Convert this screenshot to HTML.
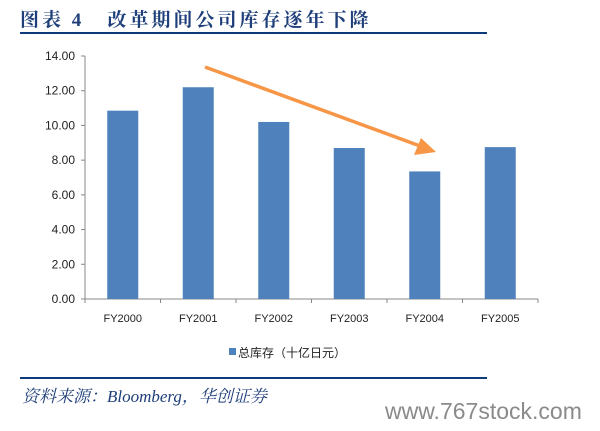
<!DOCTYPE html>
<html><head><meta charset="utf-8"><style>
body{margin:0;width:600px;height:431px;background:#fff;overflow:hidden;position:relative;font-family:"Liberation Sans","Noto Sans CJK SC",sans-serif}
.title{position:absolute;left:20px;top:5px;font-size:19px;font-weight:bold;color:#1f3f7a;font-family:"Liberation Serif","Noto Serif CJK SC",serif;letter-spacing:3px;white-space:nowrap}
.line{position:absolute;left:20px;width:467px;height:2px;background:#0e3a7a}
.src{position:absolute;left:22px;top:382px;font-size:17px;font-style:italic;color:#1f3f7a;font-family:"Liberation Serif","Noto Serif CJK SC",serif;white-space:nowrap}
.wm{position:absolute;left:385px;top:398px;font-size:23px;color:#8a8a8a;font-family:"Liberation Sans",sans-serif;white-space:nowrap}
</style></head><body>
<div class="title">图表 4&nbsp;&nbsp;&nbsp;改革期间公司库存逐年下降</div>
<div class="line" style="top:32px"></div>
<svg id="chart" width="600" height="431" style="position:absolute;left:0;top:0"></svg>
<div class="line" style="top:377px"></div>
<div class="src">资料来源：Bloomberg，华创证券</div>
<div class="wm">www.767stock.com</div>
<script>
const categories=["FY2000","FY2001","FY2002","FY2003","FY2004","FY2005"];
const values=[10.85,12.2,10.2,8.7,7.35,8.75];
const ticks=[0,2,4,6,8,10,12,14];
const tickLabels=["0.00","2.00","4.00","6.00","8.00","10.00","12.00","14.00"];
const svg=document.getElementById('chart');const NS="http://www.w3.org/2000/svg";
const x0=85,x1=538,y0=299,y1=56,ymax=14;
const y=v=>y0-(v/ymax)*(y0-y1);
const bw=(x1-x0)/categories.length;
function mk(t,a,p){const e=document.createElementNS(NS,t);for(const k in a)e.setAttribute(k,a[k]);(p||svg).appendChild(e);return e;}
let ax=mk('line',{x1:x0,y1:y1,x2:x0,y2:y0,stroke:'#888'});

let bx=mk('line',{x1:x0,y1:y0,x2:x1,y2:y0,stroke:'#888'});

ticks.forEach((t,i)=>{mk('line',{x1:x0-4,y1:y(t),x2:x0,y2:y(t),stroke:'#888'});
 const tx=mk('text',{x:x0-10,y:y(t)+4,'text-anchor':'end','font-size':12,fill:'#222'});tx.textContent=tickLabels[i];
 });
for(let i=0;i<=categories.length;i++)mk('line',{x1:x0+i*bw,y1:y0,x2:x0+i*bw,y2:y0+4,stroke:'#888'});
categories.forEach((c,i)=>{const cx=x0+bw*(i+0.5);
 const r=mk('rect',{x:cx-15.5,y:y(values[i]),width:31,height:y0-y(values[i]),fill:'#4f81bd'});
 
 const t=mk('text',{x:cx,y:322,'text-anchor':'middle','font-size':11,fill:'#222'});t.textContent=c;
 });
const lg=mk('rect',{x:229,y:348,width:7,height:7,fill:'#4f81bd'});

const lt=mk('text',{x:238,y:357,'font-size':12,fill:'#222'});lt.textContent='总库存（十亿日元）';

const ar=mk('line',{x1:205,y1:67,x2:420,y2:146,stroke:'#f79646','stroke-width':3.5});

const ah=mk('polygon',{points:'436,152 414,155 421,138',fill:'#f79646'});

</script>
</body></html>
